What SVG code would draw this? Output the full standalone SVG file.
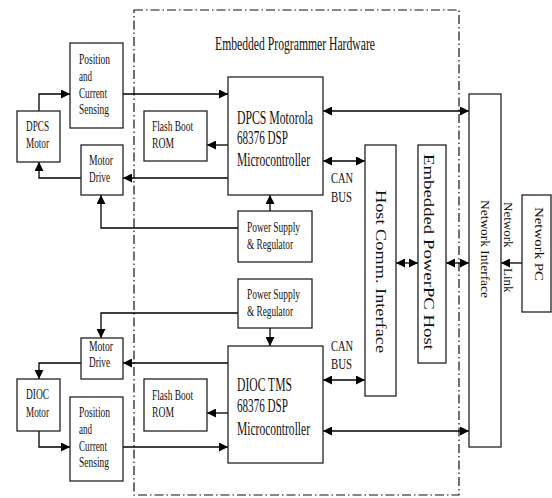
<svg xmlns="http://www.w3.org/2000/svg" width="552" height="498" viewBox="0 0 552 498">
<defs>
<marker id="ah" viewBox="0 0 10 10" refX="10" refY="5" markerWidth="9" markerHeight="9" markerUnits="userSpaceOnUse" orient="auto-start-reverse">
<path d="M0,0 L10,5 L0,10 Z" fill="#000"/>
</marker>
<style>
.box{fill:#fff;stroke:#222;stroke-width:1.3}
.t{font-family:"Liberation Serif","Times New Roman",serif;fill:#111;font-size:15px}
.s{font-size:14.5px}
.v{font-size:14px}
.n{font-size:13px}
.m{font-size:18.5px}
.c{fill:none;stroke:#000;stroke-width:1.3}
.a{marker-end:url(#ah)}
.d{marker-start:url(#ah);marker-end:url(#ah)}
.frame{fill:none;stroke:#111;stroke-width:1.2;stroke-dasharray:9 3 1.5 3}
</style>
</defs>
<rect width="552" height="498" fill="#fff"/>
<rect class="frame" x="134" y="10" width="325" height="485"/>
<text class="t m" x="215" y="50" textLength="160" lengthAdjust="spacingAndGlyphs">Embedded Programmer Hardware</text>

<g id="connectors">
<path class="c a" d="M39,111 V94 H70"/>
<path class="c a" d="M123,94 H228"/>
<path class="c a" d="M228,145 H207"/>
<path class="c a" d="M228,178 H123"/>
<path class="c a" d="M81,178 H39 V162"/>
<path class="c a" d="M238,228 H101 V195"/>
<path class="c a" d="M270,211 V195"/>
<path class="c d" d="M323,111 H469"/>
<path class="c d" d="M323,161 H365"/>
<path class="c d" d="M396,263 H418"/>
<path class="c d" d="M446,263 H469"/>
<path class="c a" d="M522,263 H501"/>
<path class="c a" d="M238,313 H101 V338"/>
<path class="c a" d="M270,328 V346"/>
<path class="c a" d="M228,363 H123"/>
<path class="c a" d="M81,363 H39 V379"/>
<path class="c a" d="M39,431 V447 H70"/>
<path class="c a" d="M123,447 H228"/>
<path class="c a" d="M228,413 H207"/>
<path class="c d" d="M323,380 H365"/>
<path class="c d" d="M323,431 H469"/>
<text class="t" x="331" y="183" textLength="22" lengthAdjust="spacingAndGlyphs">CAN</text>
<text class="t" x="331" y="202" textLength="21" lengthAdjust="spacingAndGlyphs">BUS</text>
<text class="t" x="331" y="351" textLength="22" lengthAdjust="spacingAndGlyphs">CAN</text>
<text class="t" x="331" y="369" textLength="21" lengthAdjust="spacingAndGlyphs">BUS</text>
<text class="t n" transform="translate(504,202) rotate(90)">Network<tspan x="66">Link</tspan></text>
</g>

<g id="pos1">
<rect class="box" x="70" y="43" width="53" height="85"/>
<text class="t s" x="79" y="64" textLength="31" lengthAdjust="spacingAndGlyphs">Position</text>
<text class="t s" x="79" y="81" textLength="13" lengthAdjust="spacingAndGlyphs">and</text>
<text class="t s" x="79" y="98" textLength="28" lengthAdjust="spacingAndGlyphs">Current</text>
<text class="t s" x="79" y="114" textLength="30" lengthAdjust="spacingAndGlyphs">Sensing</text>
</g>
<g id="dpcsmotor">
<rect class="box" x="17" y="111" width="43" height="51"/>
<text class="t s" x="26" y="131" textLength="23" lengthAdjust="spacingAndGlyphs">DPCS</text>
<text class="t s" x="26" y="148" textLength="23" lengthAdjust="spacingAndGlyphs">Motor</text>
</g>
<g id="drive1">
<rect class="box" x="81" y="145" width="42" height="50"/>
<text class="t s" x="89" y="165" textLength="24" lengthAdjust="spacingAndGlyphs">Motor</text>
<text class="t s" x="89" y="182" textLength="21" lengthAdjust="spacingAndGlyphs">Drive</text>
</g>
<g id="rom1">
<rect class="box" x="144" y="111" width="63" height="50"/>
<text class="t s" x="152" y="131" textLength="41" lengthAdjust="spacingAndGlyphs">Flash Boot</text>
<text class="t s" x="152" y="148" textLength="22" lengthAdjust="spacingAndGlyphs">ROM</text>
</g>
<g id="dpcs">
<rect class="box" x="228" y="77" width="95" height="118"/>
<text class="t m" x="237" y="124" textLength="76" lengthAdjust="spacingAndGlyphs">DPCS Motorola</text>
<text class="t m" x="237" y="144" textLength="51" lengthAdjust="spacingAndGlyphs">68376 DSP</text>
<text class="t m" x="237" y="166" textLength="73" lengthAdjust="spacingAndGlyphs">Microcontroller</text>
</g>
<g id="psu1">
<rect class="box" x="238" y="211" width="74" height="51"/>
<text class="t s" x="247" y="232" textLength="53" lengthAdjust="spacingAndGlyphs">Power Supply</text>
<text class="t s" x="247" y="249" textLength="46" lengthAdjust="spacingAndGlyphs">&amp; Regulator</text>
</g>
<g id="hostcomm">
<rect class="box" x="365" y="145" width="31" height="251"/>
<text class="t v" transform="translate(376,190) rotate(90)" textLength="163" lengthAdjust="spacingAndGlyphs">Host Comm. Interface</text>
</g>
<g id="ppc">
<rect class="box" x="418" y="145" width="28" height="218"/>
<text class="t v" transform="translate(424,154) rotate(90)" textLength="196" lengthAdjust="spacingAndGlyphs">Embedded PowerPC Host</text>
</g>
<g id="netif">
<rect class="box" x="469" y="94" width="32" height="353"/>
<text class="t n" transform="translate(481,200) rotate(90)" textLength="98" lengthAdjust="spacingAndGlyphs">Network Interface</text>
</g>
<g id="netpc">
<rect class="box" x="522" y="195" width="29" height="117"/>
<text class="t n" transform="translate(535,207) rotate(90)" textLength="74" lengthAdjust="spacingAndGlyphs">Network PC</text>
</g>
<g id="psu2">
<rect class="box" x="238" y="279" width="74" height="49"/>
<text class="t s" x="247" y="299" textLength="53" lengthAdjust="spacingAndGlyphs">Power Supply</text>
<text class="t s" x="247" y="316" textLength="46" lengthAdjust="spacingAndGlyphs">&amp; Regulator</text>
</g>
<g id="drive2">
<rect class="box" x="81" y="338" width="42" height="41"/>
<text class="t s" x="89" y="351" textLength="24" lengthAdjust="spacingAndGlyphs">Motor</text>
<text class="t s" x="89" y="367" textLength="21" lengthAdjust="spacingAndGlyphs">Drive</text>
</g>
<g id="diocmotor">
<rect class="box" x="17" y="379" width="43" height="52"/>
<text class="t s" x="26" y="399" textLength="23" lengthAdjust="spacingAndGlyphs">DIOC</text>
<text class="t s" x="26" y="417" textLength="23" lengthAdjust="spacingAndGlyphs">Motor</text>
</g>
<g id="rom2">
<rect class="box" x="144" y="379" width="63" height="52"/>
<text class="t s" x="152" y="400" textLength="41" lengthAdjust="spacingAndGlyphs">Flash Boot</text>
<text class="t s" x="152" y="417" textLength="22" lengthAdjust="spacingAndGlyphs">ROM</text>
</g>
<g id="pos2">
<rect class="box" x="70" y="397" width="53" height="84"/>
<text class="t s" x="79" y="417" textLength="31" lengthAdjust="spacingAndGlyphs">Position</text>
<text class="t s" x="79" y="434" textLength="13" lengthAdjust="spacingAndGlyphs">and</text>
<text class="t s" x="79" y="451" textLength="28" lengthAdjust="spacingAndGlyphs">Current</text>
<text class="t s" x="79" y="467" textLength="30" lengthAdjust="spacingAndGlyphs">Sensing</text>
</g>
<g id="dioc">
<rect class="box" x="228" y="346" width="95" height="117"/>
<text class="t m" x="237" y="391" textLength="55" lengthAdjust="spacingAndGlyphs">DIOC TMS</text>
<text class="t m" x="237" y="412" textLength="51" lengthAdjust="spacingAndGlyphs">68376 DSP</text>
<text class="t m" x="237" y="435" textLength="73" lengthAdjust="spacingAndGlyphs">Microcontroller</text>
</g>
</svg>
